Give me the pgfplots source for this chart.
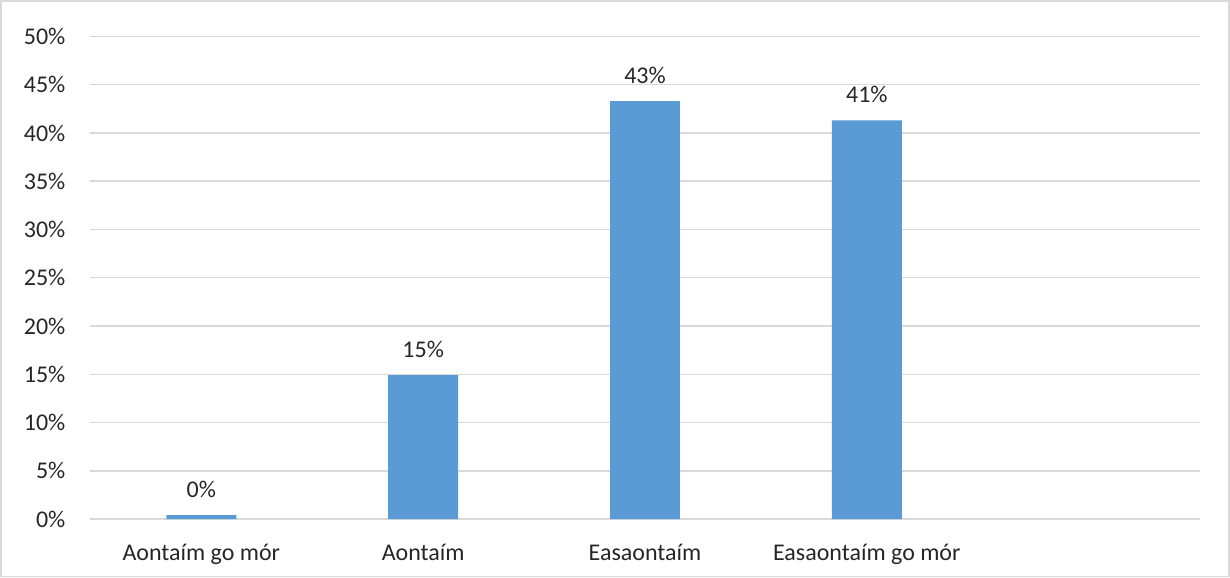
\documentclass[border=0pt]{standalone}
\usepackage{fontspec}
\setmainfont{Carlito}
\usepackage{pgfplots}
\pgfplotsset{compat=1.18}
\definecolor{barblue}{HTML}{5B9BD5}
\definecolor{gridgray}{HTML}{D9D9D9}
\begin{document}
\begin{tikzpicture}
\begin{axis}[
  scale only axis, width=555pt, height=241.5pt,
  xmin=-0.5, xmax=4.5, ymin=0, ymax=50,
  ytick={0,5,...,50},
  yticklabel={\pgfmathprintnumber{\tick}\%},
  xtick={0,1,2,3,4},
  xticklabels={Aontaím go mór, Aontaím, Easaontaím, Easaontaím go mór, {}},
  /pgf/number format/assume math mode=true,
  ymajorgrids, grid style={gridgray, line width=0.75pt},
  axis line style={draw=none},
  major tick length=0pt,
  tick label style={font=\fontsize{12}{14}\selectfont, text=black!85},
  yticklabel style={xshift=-9pt},
  xticklabel style={yshift=-9pt},
  ybar, bar width=35pt,
  nodes near coords={\pgfmathprintnumber[fixed,precision=0]{\pgfplotspointmeta}\%},
  nodes near coords style={font=\fontsize{12}{14}\selectfont, text=black!85, anchor=south, inner sep=0pt, yshift=8.5pt},
  clip=false,
  after end axis/.code={
    \draw[gridgray, line width=0.9pt] (rel axis cs:-0.0807,-0.1192) rectangle (rel axis cs:1.0266,1.0736);
  },
]
\addplot[fill=barblue, draw=none] coordinates {(0,0.4) (1,14.9) (2,43.3) (3,41.3)};
\end{axis}
\end{tikzpicture}
\end{document}
